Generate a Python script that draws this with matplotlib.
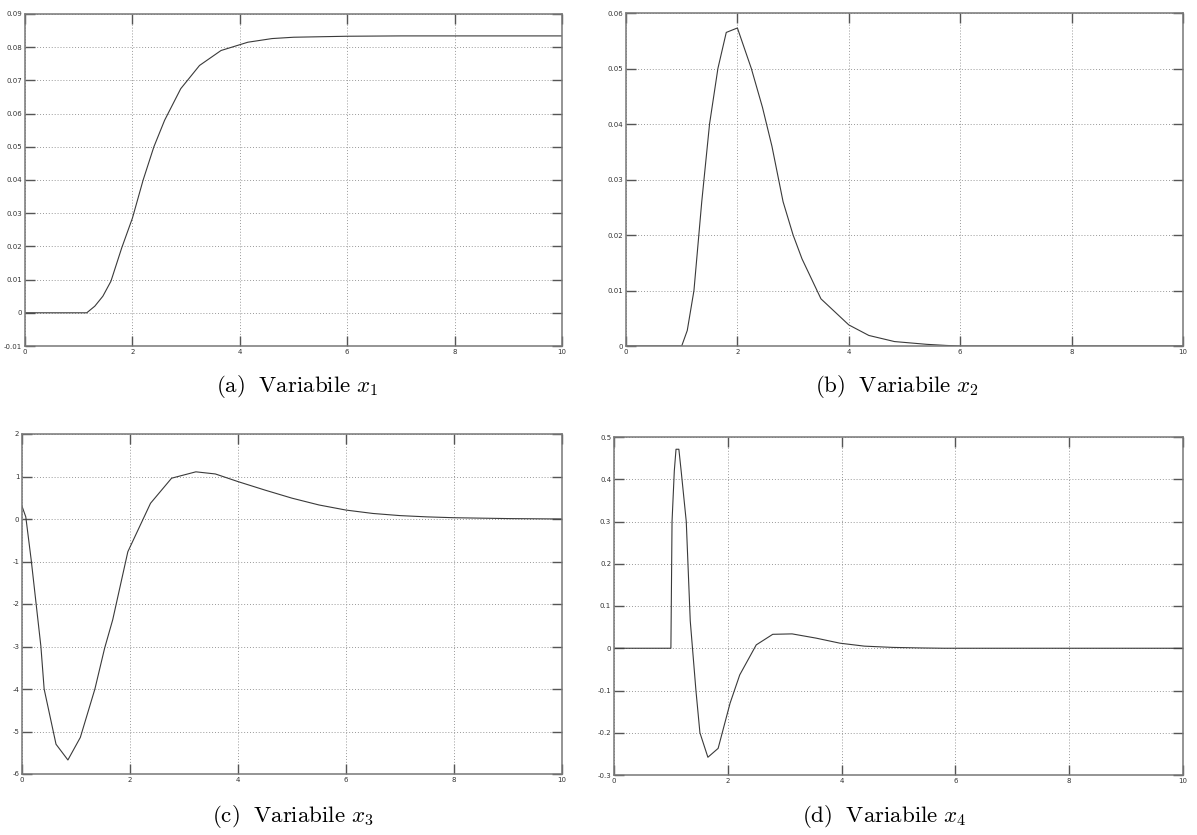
import matplotlib.pyplot as plt
import numpy as np

# valori
t1 = [0, 1.15, 1.3, 1.45, 1.6, 1.8, 2.0, 2.2, 2.4, 2.6, 2.9, 3.25, 3.65, 4.15, 4.6, 5.0, 6, 7, 8, 10]
x1 = [0, 0, 0.002, 0.005, 0.0095, 0.0195, 0.0285, 0.040, 0.050, 0.058, 0.0675, 0.0745, 0.079,
      0.0815, 0.0826, 0.083, 0.0833, 0.0834, 0.0834, 0.0834]

t2 = [0, 1.0, 1.1, 1.22, 1.36, 1.5, 1.65, 1.8, 2.0, 2.25, 2.45, 2.62, 2.82, 3.0, 3.16, 3.5, 4.0,
      4.36, 4.82, 5.4, 5.75, 6, 8, 10]
x2 = [0, 0, 0.0028, 0.01, 0.026, 0.040, 0.050, 0.0565, 0.0573, 0.050, 0.043, 0.036, 0.026, 0.020,
      0.0157, 0.0085, 0.0038, 0.0019, 0.0008, 0.0003, 0.0001, 0, 0, 0]

t3 = [0, 0.07, 0.17, 0.35, 0.41, 0.63, 0.85, 1.08, 1.35, 1.53, 1.68, 1.96, 2.38, 2.77, 3.22, 3.58,
      4.0, 4.5, 5.0, 5.5, 6.0, 6.5, 7.0, 7.5, 8.0, 9.0, 10]
x3 = [0.3, 0.05, -0.96, -3.0, -4.0, -5.3, -5.67, -5.14, -4.0, -3.04, -2.37, -0.77, 0.37, 0.96, 1.11,
      1.06, 0.88, 0.68, 0.49, 0.33, 0.21, 0.13, 0.08, 0.05, 0.03, 0.01, 0.0]

t4 = [0, 1.0, 1.02, 1.06, 1.09, 1.14, 1.18, 1.27, 1.34, 1.44, 1.51, 1.65, 1.83, 2.04, 2.21, 2.5,
      2.79, 3.13, 3.55, 3.97, 4.4, 4.9, 5.4, 5.8, 8, 10]
x4 = [0, 0, 0.30, 0.42, 0.471, 0.471, 0.42, 0.30, 0.065, -0.10, -0.20, -0.258, -0.237, -0.13, -0.063,
      0.008, 0.033, 0.034, 0.024, 0.012, 0.005, 0.002, 0.0007, 0, 0, 0]

captions = [r'$\mathrm{(a)\ \ Variabile}\ x_1$', r'$\mathrm{(b)\ \ Variabile}\ x_2$',
            r'$\mathrm{(c)\ \ Variabile}\ x_3$', r'$\mathrm{(d)\ \ Variabile}\ x_4$']

plt.rcParams['mathtext.fontset'] = 'cm'
W, H = 1197, 835
fig = plt.figure(figsize=(W / 100, H / 100), dpi=100)


def box(l, t, r, b):
    return [l / W, 1 - b / H, (r - l) / W, (b - t) / H]


def panel(rect, t, y, ylim, yticks, ylabels):
    ax = fig.add_axes(rect)
    ax.plot(t, y, color='#3a3a3a', lw=0.8)
    ax.set_xlim(0, 10)
    ax.set_ylim(*ylim)
    ax.set_xticks(range(0, 11, 2))
    ax.set_xticklabels([str(v) for v in range(0, 11, 2)])
    ax.set_yticks(yticks)
    ax.set_yticklabels(ylabels)
    ax.grid(True, linestyle=(0, (1, 2)), color='#999999', lw=0.7)
    ax.tick_params(direction='in', length=7, width=1, colors='#555555', labelsize=5,
                   labelcolor='#333333', top=True, right=True, pad=2)
    for s in ax.spines.values():
        s.set_color('#777777')
        s.set_linewidth(1.1)
    return ax


panel(box(25, 14, 562, 346), t1, x1, (-0.01, 0.09), np.arange(-0.01, 0.0901, 0.01),
      ['-0.01', '0', '0.01', '0.02', '0.03', '0.04', '0.05', '0.06', '0.07', '0.08', '0.09'])
panel(box(626, 13, 1183, 346), t2, x2, (0, 0.06), np.arange(0, 0.0601, 0.01),
      ['0', '0.01', '0.02', '0.03', '0.04', '0.05', '0.06'])
panel(box(22, 434, 562, 774), t3, x3, (-6, 2), range(-6, 3),
      ['-6', '-5', '-4', '-3', '-2', '-1', '0', '1', '2'])
panel(box(614, 437, 1183, 775), t4, x4, (-0.3, 0.5), np.arange(-0.3, 0.501, 0.1),
      ['-0.3', '-0.2', '-0.1', '0', '0.1', '0.2', '0.3', '0.4', '0.5'])

fig.text(297 / W, 1 - 386 / H, captions[0], ha='center', va='center', fontsize=16.5)
fig.text(897 / W, 1 - 386 / H, captions[1], ha='center', va='center', fontsize=16.5)
fig.text(293 / W, 1 - 816 / H, captions[2], ha='center', va='center', fontsize=16.5)
fig.text(884 / W, 1 - 816 / H, captions[3], ha='center', va='center', fontsize=16.5)

fig.savefig('out.png', dpi=100)
